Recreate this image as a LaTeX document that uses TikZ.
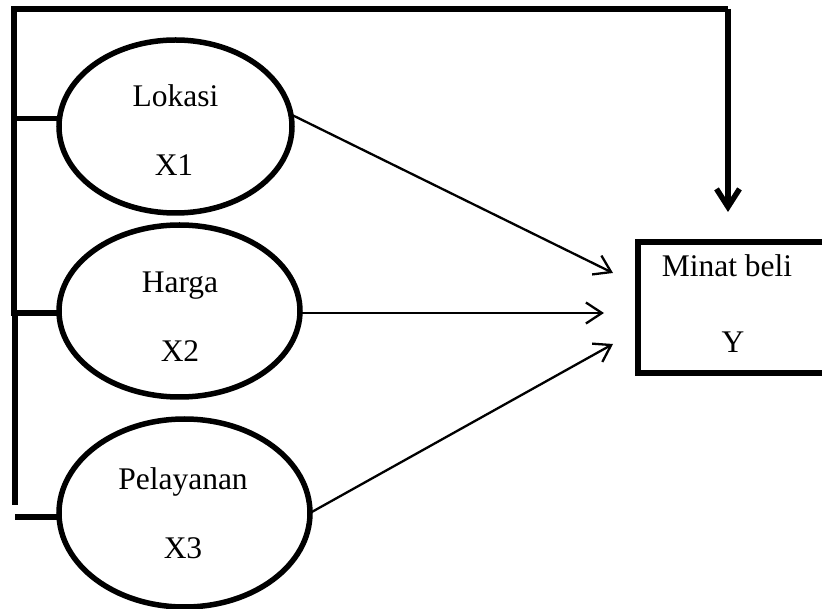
\documentclass[tikz,border=0pt]{standalone}
\usepackage{fontspec}
\setmainfont{Liberation Serif}
\usetikzlibrary{shapes.geometric,arrows.meta}
\begin{document}
\begin{tikzpicture}[x=1pt,y=-1pt,
  thickline/.style={line width=5.5pt},
  oval/.style={ellipse,draw,line width=5.5pt,inner sep=0pt,outer sep=0pt},
  lbl/.style={anchor=base,inner sep=0pt,font=\fontsize{31.5}{38}\selectfont},
  thinarrow/.style={line width=2.3pt,-{Straight Barb[length=16pt,width=21pt,line width=2.3pt]}},
  bigarrow/.style={line width=5.5pt,line join=miter,-{Straight Barb[length=18pt,width=23pt,line width=5.5pt]}}]
\path[use as bounding box,clip] (0,0) rectangle (822,609);
\fill[white] (0,0) rectangle (822,609);

% ellipses
\node[oval,minimum width=233pt,minimum height=173pt] (e1) at (175.5,126.5) {};
\node[oval,minimum width=241pt,minimum height=172pt] (e2) at (179.5,311) {};
\node[oval,minimum width=251pt,minimum height=188pt] (e3) at (184.5,513) {};

% ellipse texts
\node[lbl] (t1a) at (175.5,107) {Lokasi};
\node[lbl] (t1b) at (174,176) {X1};
\node[lbl] (t2a) at (180,293) {Harga};
\node[lbl] (t2b) at (180,362) {X2};
\node[lbl] (t3a) at (183,489) {Pelayanan};
\node[lbl] (t3b) at (183,558) {X3};

% dependent box
\node[draw,line width=5.5pt,minimum width=188pt,minimum height=131pt,inner sep=0pt] (yb) at (732,307.5) {};
\node[lbl] (ya) at (727,277) {Minat beli};
\node[lbl] (yy) at (733,353) {Y};

% bracket coordinates
\coordinate (b0) at (14,9);
\coordinate (b1) at (14,118.5);
\coordinate (b2) at (15,313);
\coordinate (b3) at (15,505);
\coordinate (s3) at (15,517);
\coordinate (topr) at (728,9);
\coordinate (tip) at (728,212);

% left bracket and top feedback line
\draw[thickline] (b1) -- (b0) -- (topr);
\draw[bigarrow] (topr) -- (tip);
\draw[thickline] (b1) -- (e1.west |- b1);
\draw[thickline] (b1) -- (b1 |- b2) -- (b2);
\draw[thickline] (b2) -- (e2.west |- b2);
\draw[thickline] (b2) -- (b3);
\draw[thickline] (s3) -- (e3.west |- s3);

% arrow tips
\coordinate (a1) at (613,273);
\coordinate (a2) at (604,313);
\coordinate (a3) at (613,344);

\draw[thinarrow] (e1.6) -- (a1);
\draw[thinarrow] (e2.east |- a2) -- (a2);
\draw[thinarrow] (e3.east) -- (a3);
\end{tikzpicture}
\end{document}
